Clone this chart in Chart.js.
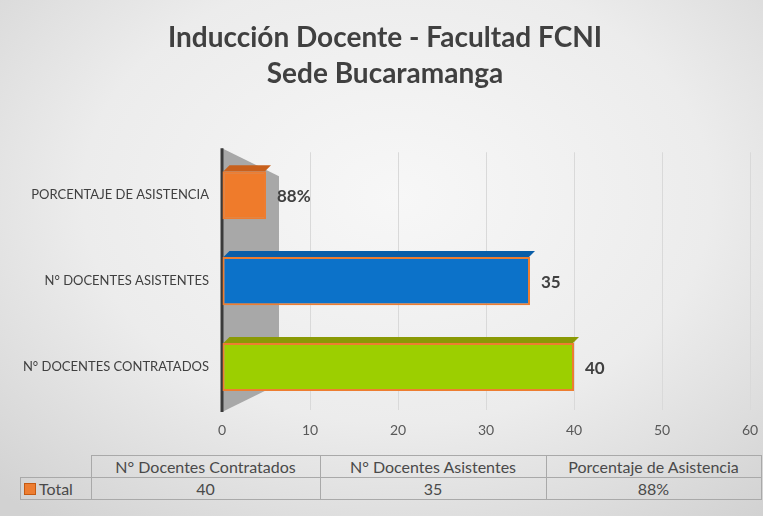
<!DOCTYPE html>
<html>
<head>
<meta charset="utf-8">
<script src="https://cdn.jsdelivr.net/npm/chart.js@4"></script>
<style>
  html, body { margin: 0; padding: 0; }
  body {
    width: 763px; height: 516px; overflow: hidden; position: relative;
    background: radial-gradient(ellipse 75% 80% at 52% 38%, #f7f7f7 0%, #ececec 55%, #d2d2d2 100%);
    font-family: Lato, "Open Sans", sans-serif;
  }
  #wrap { position: absolute; left: 0; top: 0; width: 763px; height: 450px; }
  table.dt {
    position: absolute; left: 20px; top: 455px;
    border-collapse: collapse; font-size: 16px; color: #4a4a4a;
  }
  table.dt td { border: 1px solid #a9a9a9; height: 21px; padding: 0; text-align: center; }
  table.dt td.blank { border: none; }
  table.dt td.lbl { text-align: left; padding-left: 3px; }
  .mk { display: inline-block; width: 10px; height: 10px; background: #ed7d31; border: 1px solid #c55a11; vertical-align: 0px; margin-right: 3px; }
</style>
</head>
<body>
<div id="wrap"><canvas id="chart"></canvas></div>
<table class="dt" id="table"></table>
<script>
// Datos del gráfico
const categories = ['N° DOCENTES CONTRATADOS', 'N° DOCENTES ASISTENTES', 'PORCENTAJE DE ASISTENCIA'];
const tableHeaders = ['N° Docentes Contratados', 'N° Docentes Asistentes', 'Porcentaje de Asistencia'];
const values = [40, 35, 0.88];
const valueLabels = ['40', '35', '88%'];
const seriesName = 'Total';
const xTicks = [0, 10, 20, 30, 40, 50, 60];

const barColors = ['#9ccf00', '#0c72c9', '#ef7b2b'];
const topColors = ['#8a9a05', '#0a5ea8', '#c8601c'];

// Pared gris del eje (efecto 3D)
const wallPlugin = {
    id: 'wall',
    beforeDatasetsDraw(chart) {
        const { ctx, chartArea: a } = chart;
        ctx.save();
        ctx.fillStyle = '#a8a8a8';
        ctx.beginPath();
        ctx.moveTo(a.left, a.top - 4);
        ctx.lineTo(a.left + 57, a.top + 24);
        ctx.lineTo(a.left + 57, a.bottom - 26);
        ctx.lineTo(a.left, a.bottom + 2);
        ctx.closePath();
        ctx.fill();
        ctx.strokeStyle = '#3a3a3a';
        ctx.lineWidth = 3;
        ctx.beginPath();
        ctx.moveTo(a.left, a.top - 4);
        ctx.lineTo(a.left, a.bottom + 2);
        ctx.stroke();
        ctx.restore();
    }
};

// Cara superior de las barras y etiquetas de datos
const labelPlugin = {
    id: 'labels',
    afterDatasetsDraw(chart) {
        const { ctx } = chart;
        const meta = chart.getDatasetMeta(0);
        ctx.save();
        meta.data.forEach((bar, i) => {
            const top = bar.y - bar.height / 2;
            ctx.fillStyle = topColors[i];
            ctx.beginPath();
            ctx.moveTo(bar.base + 1, top);
            ctx.lineTo(bar.base + 7, top - 6);
            ctx.lineTo(bar.x + 5, top - 6);
            ctx.lineTo(bar.x - 1, top);
            ctx.closePath();
            ctx.fill();
            ctx.fillStyle = '#404040';
            ctx.font = 'bold 17px Lato';
            ctx.textBaseline = 'middle';
            ctx.fillText(valueLabels[i], bar.x + 11, bar.y + 1);
        });
        ctx.restore();
    }
};

new Chart(document.getElementById('chart'), {
    type: 'bar',
    data: {
        labels: categories,
        datasets: [{
            label: seriesName,
            data: values,
            backgroundColor: barColors,
            borderColor: '#ed7d31',
            borderWidth: 2,
            borderSkipped: false,
            categoryPercentage: 1,
            barPercentage: 0.56,
            minBarLength: 44
        }]
    },
    options: {
        indexAxis: 'y',
        responsive: true,
        maintainAspectRatio: false,
        animation: false,
        layout: { padding: { left: 20, right: 13, top: 0, bottom: 0 } },
        plugins: {
            legend: { display: false },
            tooltip: { enabled: false },
            title: {
                display: true,
                text: ['Inducción Docente - Facultad FCNI', 'Sede Bucaramanga'],
                color: '#404040',
                font: { family: 'Lato', size: 28, weight: 'bold', lineHeight: 1.29 },
                padding: { top: 20, bottom: 60 }
            }
        },
        scales: {
            x: {
                min: 0,
                max: 60,
                afterBuildTicks(scale) { scale.ticks = xTicks.map(v => ({ value: v })); },
                afterFit(scale) { scale.height = 40; scale.paddingRight = 0; scale.paddingLeft = 0; },
                grid: { color: '#d9d9d9', drawTicks: false },
                border: { display: false },
                ticks: { color: '#595959', padding: 12, font: { family: 'Lato', size: 14 } }
            },
            y: {
                reverse: true,
                afterFit(scale) { scale.width = 202; },
                grid: { display: false },
                border: { display: false },
                ticks: { color: '#404040', padding: 5, font: { family: 'Lato', size: 13 } }
            }
        }
    },
    plugins: [wallPlugin, labelPlugin]
});

// Tabla de datos
const colWidths = [70, 228, 225, 214];
const table = document.getElementById('table');
let head = '<tr><td class="blank" style="width:' + colWidths[0] + 'px"></td>';
tableHeaders.forEach((h, i) => { head += '<td style="width:' + colWidths[i + 1] + 'px">' + h + '</td>'; });
head += '</tr>';
let row = '<tr><td class="lbl"><span class="mk"></span>' + seriesName + '</td>';
valueLabels.forEach(v => { row += '<td>' + v + '</td>'; });
row += '</tr>';
table.innerHTML = head + row;
</script>
</body>
</html>
